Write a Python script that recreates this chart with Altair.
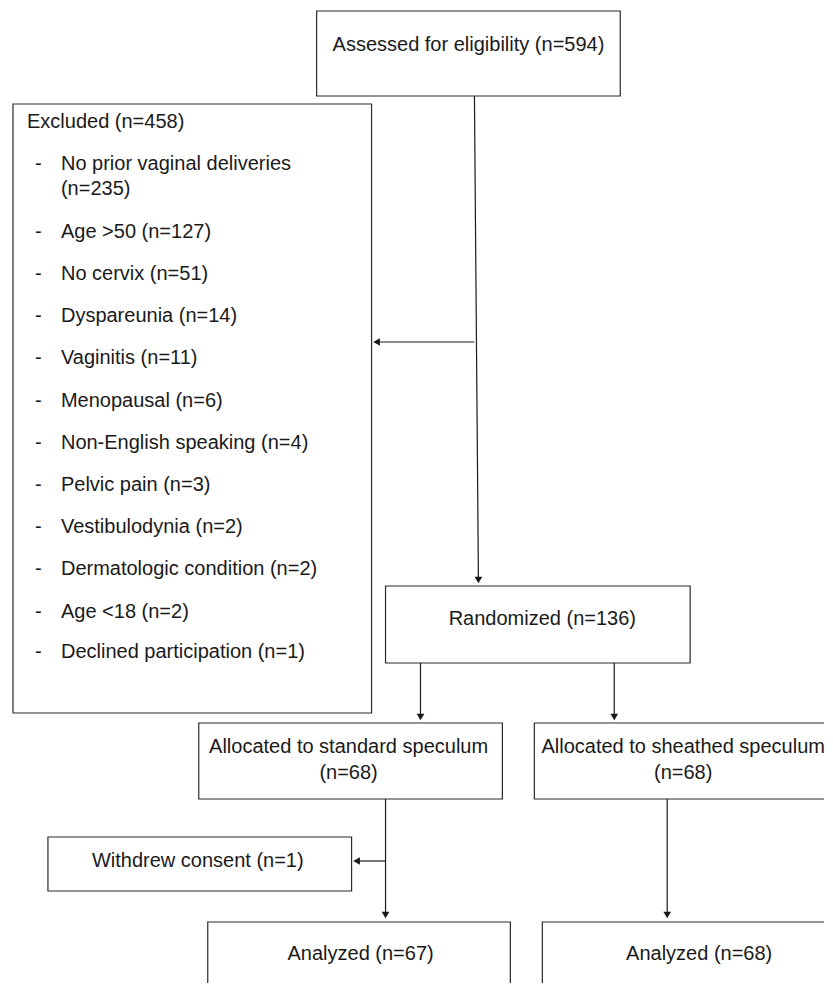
import altair as alt
import pandas as pd

# ---------------- content ----------------
assessed_label = "Assessed for eligibility (n=594)"
excluded_title = "Excluded (n=458)"
excluded_reasons = ["No prior vaginal deliveries", "Age >50", "No cervix", "Dyspareunia",
                    "Vaginitis", "Menopausal", "Non-English speaking", "Pelvic pain",
                    "Vestibulodynia", "Dermatologic condition", "Age <18",
                    "Declined participation"]
excluded_counts = [235, 127, 51, 14, 11, 6, 4, 3, 2, 2, 2, 1]
randomized_label = "Randomized (n=136)"
arm_names = ["standard", "sheathed"]
allocated_counts = [68, 68]
withdrew_label = "Withdrew consent (n=1)"
analyzed_counts = [67, 68]

# ---------------- layout (diagram geometry, pixels) ----------------
box_layout = {
    "assessed": (317, 621, 11, 96),
    "excluded": (13, 372, 104, 713),
    "randomized": (386, 691, 586, 663),
    "alloc_standard": (199, 503, 723, 799),
    "alloc_sheathed": (535, 845, 723, 799),
    "withdrew": (48, 352, 837, 891),
    "analyzed_standard": (208, 511, 922, 1000),
    "analyzed_sheathed": (543, 845, 922, 1000),
}
reason_y = [164, 232, 274, 316, 358, 401, 443, 485, 527, 569, 612, 652]
line_layout = [
    (475, 96, 479, 581),
    (475, 342, 376, 342),
    (421, 663, 421, 717),
    (615, 663, 615, 717),
    (386, 799, 386, 915),
    (386, 861, 357, 861),
    (668, 799, 668, 915),
]
arrow_layout = [
    (377, 342, "triangle-left"),
    (479, 580, "triangle-down"),
    (421, 717, "triangle-down"),
    (615, 717, "triangle-down"),
    (386, 915, "triangle-down"),
    (668, 915, "triangle-down"),
    (357, 861, "triangle-left"),
]

# ---------------- tables ----------------
boxes = pd.DataFrame(
    [{"name": k, "x": v[0], "x2": v[1], "y": v[2], "y2": v[3]} for k, v in box_layout.items()]
)

center_text = [
    (469, 45, assessed_label),
    (543, 619, randomized_label),
    (349, 747, f"Allocated to {arm_names[0]} speculum"),
    (349, 773, f"(n={allocated_counts[0]})"),
    (684, 747, f"Allocated to {arm_names[1]} speculum"),
    (684, 773, f"(n={allocated_counts[1]})"),
    (198, 861, withdrew_label),
    (361, 954, f"Analyzed (n={analyzed_counts[0]})"),
    (700, 954, f"Analyzed (n={analyzed_counts[1]})"),
]
centers = pd.DataFrame(center_text, columns=["x", "y", "text"])

left_rows = [(27, 122, excluded_title)]
for i, (r, c) in enumerate(zip(excluded_reasons, excluded_counts)):
    y = reason_y[i]
    left_rows.append((35, y, "-"))
    if i == 0:
        left_rows.append((61, y, r))
        left_rows.append((61, y + 25, f"(n={c})"))
    else:
        left_rows.append((61, y, f"{r} (n={c})"))
lefts = pd.DataFrame(left_rows, columns=["x", "y", "text"])

lines = pd.DataFrame(line_layout, columns=["x", "y", "x2", "y2"])
arrows = pd.DataFrame(arrow_layout, columns=["x", "y", "shape"])

# ---------------- scales ----------------
xs = alt.Scale(domain=[8, 825], nice=False, zero=False)
ys = alt.Scale(domain=[8, 983], nice=False, zero=False, reverse=True)
X = lambda f: alt.X(f, type="quantitative", scale=xs, axis=None)
Y = lambda f: alt.Y(f, type="quantitative", scale=ys, axis=None)

FONT = "Liberation Sans"
INK = "#1a1a1a"

box_layer = alt.Chart(boxes).mark_rect(
    fill="white", stroke="#2a2a2a", strokeWidth=1.2, clip=True
).encode(x=X("x"), x2="x2", y=Y("y"), y2="y2")

line_layer = alt.Chart(lines).mark_rule(color="#1a1a1a", strokeWidth=1.2).encode(
    x=X("x"), y=Y("y"), x2="x2", y2="y2"
)

arrow_layer = alt.Chart(arrows).mark_point(
    filled=True, color="#1a1a1a", size=60, opacity=1
).encode(
    x=X("x"), y=Y("y"),
    shape=alt.Shape("shape:N", scale=None, legend=None),
)

center_layer = alt.Chart(centers).mark_text(
    align="center", baseline="middle", font=FONT, fontSize=20, color=INK
).encode(x=X("x"), y=Y("y"), text="text:N")

left_layer = alt.Chart(lefts).mark_text(
    align="left", baseline="middle", font=FONT, fontSize=20, color=INK
).encode(x=X("x"), y=Y("y"), text="text:N")

chart = alt.layer(
    box_layer, line_layer, arrow_layer, center_layer, left_layer
).properties(
    width=817, height=975,
    autosize=alt.AutoSizeParams(type="fit", contains="padding"),
    padding=0,
    background="white",
).configure_view(stroke=None, strokeWidth=0)

chart.save("out.html", embed_options={"renderer": "svg", "actions": False})
